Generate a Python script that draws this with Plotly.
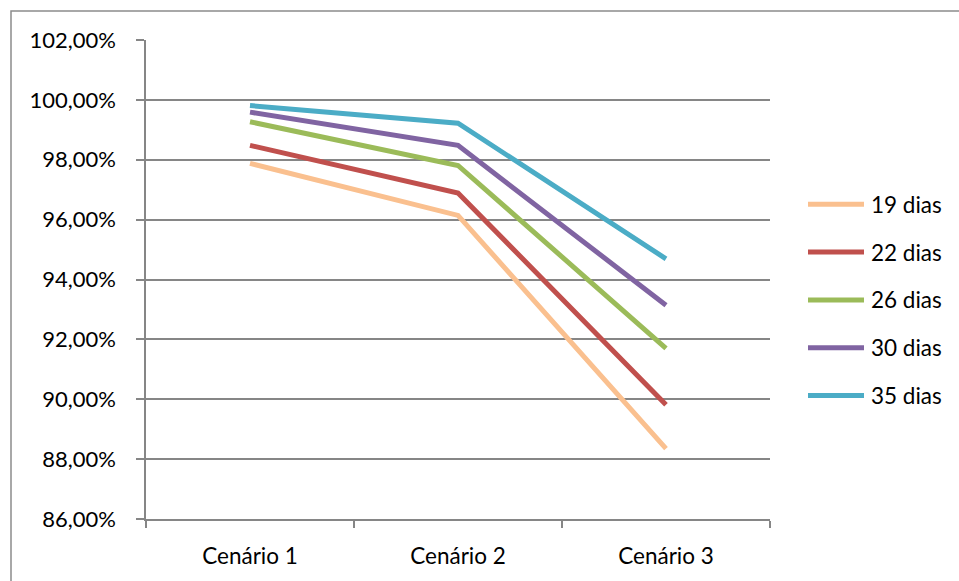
import plotly.graph_objects as go

# Scenario categories and series (retention % per storage period)
categories = ["Cenário 1", "Cenário 2", "Cenário 3"]
series_names = ["19 dias", "22 dias", "26 dias", "30 dias", "35 dias"]
values_19 = [97.88, 96.14, 88.35]
values_22 = [98.48, 96.89, 89.82]
values_26 = [99.27, 97.81, 91.70]
values_30 = [99.59, 98.48, 93.14]
values_35 = [99.81, 99.22, 94.69]
y_ticks = [86, 88, 90, 92, 94, 96, 98, 100, 102]

series_values = [values_19, values_22, values_26, values_30, values_35]
colors = ["#FAC08F", "#C0504D", "#9BBB59", "#8064A2", "#4BACC6"]

W, H = 959, 581
L, R, T, B = 146, 770, 40, 521
FONT = "Lato"
FS = 22.5

fig = go.Figure()
for name, vals, col in zip(series_names, series_values, colors):
    fig.add_trace(go.Scatter(
        x=categories, y=vals, name=name, mode="lines",
        line=dict(color=col, width=5), showlegend=False,
    ))

# Legend drawn to the right of the plot area
leg_x0, leg_x1, leg_text = 808, 864, 869
leg_y0, leg_dy = 205, 48
def px_x(p):
    return (p - L) / (R - L)
def px_y(p):
    return (B - p) / (B - T)
for i, (name, col) in enumerate(zip(series_names, colors)):
    yy = px_y(leg_y0 + i * leg_dy)
    fig.add_shape(type="line", xref="paper", yref="paper",
                  x0=px_x(leg_x0), x1=px_x(leg_x1), y0=yy, y1=yy,
                  line=dict(color=col, width=5))
    fig.add_annotation(xref="paper", yref="paper", x=px_x(leg_text), y=yy,
                       text=name, showarrow=False, xanchor="left", yanchor="middle",
                       font=dict(family=FONT, size=FS, color="#000000"))

# Outer chart frame
fig.add_shape(type="rect", xref="paper", yref="paper",
              x0=px_x(11), x1=px_x(W + 5), y0=px_y(11), y1=px_y(H + 5),
              line=dict(color="#8C8C8C", width=1.5), fillcolor="rgba(0,0,0,0)")

fig.update_layout(
    width=W, height=H,
    margin=dict(l=L, r=W - R, t=T, b=H - B),
    paper_bgcolor="white", plot_bgcolor="white",
    font=dict(family=FONT, size=FS, color="#000000"),
)
fig.update_xaxes(
    type="category", range=[-0.5, 2.5],
    showline=True, linecolor="#868686", linewidth=1.5,
    ticks="outside", tickson="boundaries", ticklen=7, tickcolor="#868686", tickwidth=1.5,
    showgrid=False, ticklabelstandoff=16,
    tickfont=dict(family=FONT, size=FS),
)
fig.update_yaxes(
    range=[86, 102], tickvals=y_ticks,
    ticktext=[f"{v},00%" for v in y_ticks],
    showline=True, linecolor="#868686", linewidth=1.5,
    ticks="outside", ticklen=8, tickcolor="#868686", tickwidth=1.5,
    showgrid=True, gridcolor="#868686", gridwidth=1.5,
    zeroline=False, ticklabelstandoff=16,
    tickfont=dict(family=FONT, size=22),
)

fig.write_html("out.html")
